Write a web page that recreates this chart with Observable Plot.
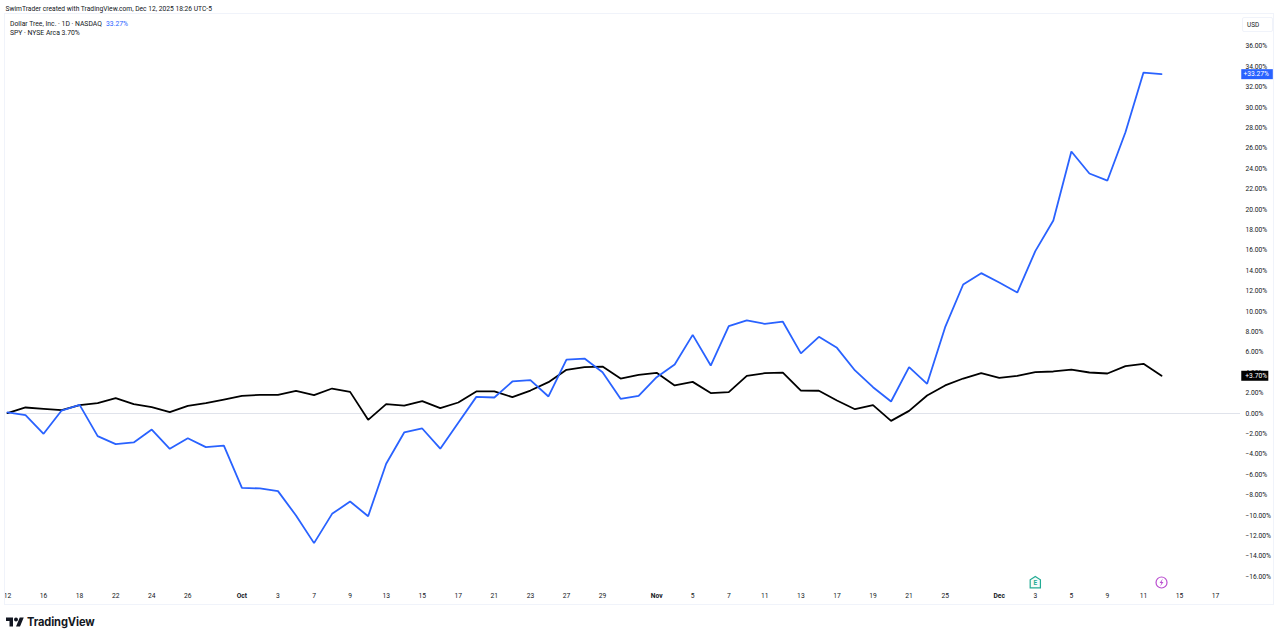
<!DOCTYPE html>
<html>
<head>
<meta charset="utf-8">
<script src="https://cdn.jsdelivr.net/npm/d3@7"></script>
<script src="https://cdn.jsdelivr.net/npm/@observablehq/plot@0.6"></script>
<style>
  html, body { margin: 0; padding: 0; background: #fff; width: 1280px; height: 638px; overflow: hidden; font-family: Roboto, "Liberation Sans", sans-serif; color: #131722; }
  #head { position: absolute; left: 5.5px; top: 3.5px; font-size: 6.7px; line-height: 10px; white-space: pre; }
  #chart { position: absolute; left: 5px; top: 14px; width: 1268px; height: 590px; outline: 1px solid #f0f3fa; }
  #legend { position: absolute; left: 10px; top: 19.5px; font-size: 6.8px; line-height: 9.4px; white-space: pre; }
  #legend span { color: #2962ff; margin-left: 2.5px; }
  #usd { position: absolute; left: 1242px; top: 17px; height: 13px; border: 1px solid #f0f3fa; border-radius: 2px; font-size: 6.4px; line-height: 15px; padding-left: 4px; box-sizing: content-box; width: 25px; }
  #foot { position: absolute; left: 6px; top: 612.5px; height: 18px; display: flex; align-items: center; gap: 3px; font-size: 11.1px; font-weight: 700; letter-spacing: -0.1px; font-family: Inter, Roboto, sans-serif; color: #131722; }
</style>
</head>
<body>
<div id="head">SwimTrader created with TradingView.com, Dec 12, 2025 18:26 UTC-5</div>
<div id="chart"></div>
<div id="legend">Dollar Tree, Inc. · 1D · NASDAQ <span>33.27%</span>
SPY · NYSE Arca 3.70%</div>
<div id="usd">USD</div>
<div id="foot">
  <svg width="18" height="12" viewBox="0 2 36 22"><path fill="#131722" d="M14 22H7V11H0V4h14v18zM28 22h-8l7.5-18h8L28 22z"/><circle fill="#131722" cx="20" cy="8" r="4"/></svg>
  <span>TradingView</span>
</div>
<script>
// Trading-day bars, Sep 12 2025 (bar 0) to Dec 12 2025 (bar 64)
const dltr = [0.1,-0.16,-1.99,0.29,0.85,-2.22,-3.0,-2.84,-1.57,-3.46,-2.42,-3.3,-3.14,-7.29,-7.35,-7.61,-10.0,-12.71,-9.84,-8.63,-10.07,-4.93,-1.86,-1.47,-3.45,-0.9,1.63,1.57,3.14,3.27,1.67,5.29,5.39,4.05,1.44,1.73,3.56,4.8,7.71,4.7,8.56,9.12,8.79,9.0,5.9,7.52,6.44,4.22,2.58,1.18,4.54,2.91,8.46,12.65,13.76,12.84,11.86,15.92,18.92,25.69,23.53,22.84,27.58,33.43,33.27];
const spy = [0.03,0.59,0.46,0.33,0.82,1.01,1.5,0.92,0.62,0.13,0.75,1.01,1.37,1.73,1.83,1.83,2.22,1.8,2.45,2.12,-0.62,0.92,0.78,1.22,0.52,1.08,2.16,2.16,1.6,2.25,3.07,4.28,4.54,4.6,3.43,3.79,3.99,2.75,3.1,2.0,2.09,3.69,3.95,4.0,2.25,2.23,1.27,0.42,0.82,-0.72,0.26,1.76,2.75,3.43,3.95,3.5,3.69,4.05,4.12,4.31,4.02,3.92,4.64,4.87,3.7];

const dayBars = [0,2,4,6,8,10,15,17,19,21,23,25,27,29,31,33,38,40,42,44,46,48,50,52,57,59,61,63,65,67];
const dayLabels = ["12","16","18","22","24","26","3","7","9","13","15","17","21","23","27","29","5","7","11","13","17","19","21","25","3","5","9","11","15","17"];
const monthBars = [13,36,55];
const monthLabels = ["Oct","Nov","Dec"];

const yTicks = [-16,-14,-12,-10,-8,-6,-4,-2,0,2,4,6,8,10,12,14,16,18,20,22,24,26,28,30,32,34,36];

const lastValues = [
  {value: 33.27, color: "#2962ff", label: "+33.27%", end: 70.2},
  {value: 3.70, color: "#000000", label: "+3.70%", end: 69.95}
];
const tagStart = 68.45;
const tagTextAt = 69.25;

const earningsBar = 57, dividendBar = 64, eventLevel = -16.57;

const series = values => values.map((v, i) => ({i, v}));
const fmtPct = d => (d < 0 ? "\u2212" : "") + Math.abs(d).toFixed(2) + "%";

// custom marker shapes, centred on the dot position
const houseSymbol = {draw(c, s) {
  const r = Math.sqrt(s);
  c.moveTo(0, -r); c.lineTo(r * .85, -r * .45); c.lineTo(r * .85, r * .9);
  c.lineTo(-r * .85, r * .9); c.lineTo(-r * .85, -r * .45); c.closePath();
}};
const boltSymbol = {draw(c, s) {
  const r = Math.sqrt(s);
  c.moveTo(r * .35, -r); c.lineTo(-r * .5, r * .15); c.lineTo(-r * .02, r * .15);
  c.lineTo(-r * .35, r); c.lineTo(r * .5, -r * .15); c.lineTo(r * .02, -r * .15); c.closePath();
}};

const plot = Plot.plot({
  width: 1268,
  height: 590,
  marginLeft: 2,
  marginRight: 33,
  marginTop: 0,
  marginBottom: 17,
  style: {fontFamily: "Roboto, sans-serif", fontSize: "6.7px", color: "#131722", background: "#fff"},
  x: {domain: [0, 68.38], axis: null},
  y: {domain: [-17.06, 39.12], axis: null},
  marks: [
    Plot.ruleY([0], {stroke: "#e0e3eb", strokeWidth: 1}),
    Plot.axisY({anchor: "right", ticks: yTicks, tickFormat: fmtPct, tickSize: 0, tickPadding: 5, fill: "#131722", fontSize: 6.7}),
    Plot.axisX({anchor: "bottom", ticks: dayBars, tickFormat: (d, k) => dayLabels[k], tickSize: 0, tickPadding: 6, fontSize: 6.7, fill: "#131722"}),
    Plot.axisX({anchor: "bottom", ticks: monthBars, tickFormat: (d, k) => monthLabels[k], tickSize: 0, tickPadding: 6, fontSize: 6.7, fontWeight: 700, fill: "#131722"}),
    Plot.line(series(spy), {x: "i", y: "v", stroke: "#000000", strokeWidth: 1.8, strokeLinejoin: "miter"}),
    Plot.line(series(dltr), {x: "i", y: "v", stroke: "#2962ff", strokeWidth: 1.8, strokeLinejoin: "miter"}),
    Plot.ruleY(lastValues, {y: "value", x1: tagStart, x2: "end", stroke: "color", strokeWidth: 10}),
    Plot.text(lastValues, {y: "value", x: tagTextAt, text: "label", fill: "#ffffff", fontSize: 6.7, textAnchor: "middle"}),
    Plot.dot([earningsBar], {x: d => d, y: () => eventLevel, symbol: houseSymbol, r: 3.4, stroke: "#22ab94", strokeWidth: 1.2, fill: "#f4fbf9"}),
    Plot.text([earningsBar], {x: d => d, y: () => eventLevel, text: () => "E", fill: "#22ab94", fontSize: 6.5, fontWeight: 700, dy: 0.5}),
    Plot.dot([dividendBar], {x: d => d, y: () => eventLevel, r: 5.5, stroke: "#ba4fd0", strokeWidth: 1.2, fill: "#ffffff"}),
    Plot.dot([dividendBar], {x: d => d, y: () => eventLevel, symbol: boltSymbol, r: 2.2, fill: "#ba4fd0", stroke: "none"})
  ]
});
document.getElementById("chart").appendChild(plot);
</script>
</body>
</html>
